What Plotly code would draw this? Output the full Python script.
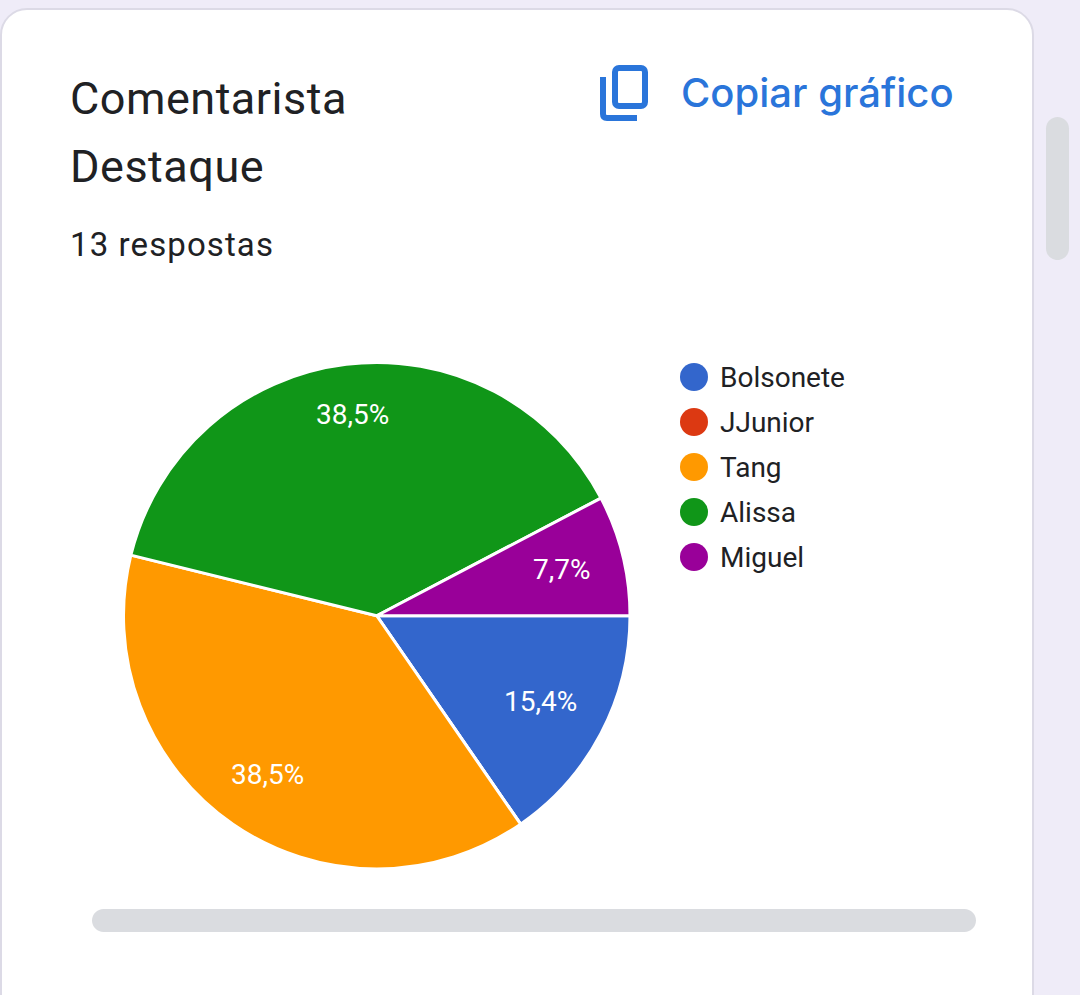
import math
import plotly.graph_objects as go

# data
labels = ['Bolsonete', 'JJunior', 'Tang', 'Alissa', 'Miguel']
values = [2, 0, 5, 5, 1]
colors = ['#3366CC', '#DC3912', '#FF9900', '#109618', '#990099']

W, H = 1080, 995
FONT = 'Roboto'
INK = '#202124'
BLUE = '#2A75DA'

# pie box in pixels
PIE_L, PIE_R, PIE_T, PIE_B = 123.5, 630, 362.5, 869


def round_rect(x0, y0, x1, y1, r):
    k = r * 0.45
    return (f'M {x0+r},{y0} L {x1-r},{y0} C {x1-k},{y0} {x1},{y0+k} {x1},{y0+r} '
            f'L {x1},{y1-r} C {x1},{y1-k} {x1-k},{y1} {x1-r},{y1} '
            f'L {x0+r},{y1} C {x0+k},{y1} {x0},{y1-k} {x0},{y1-r} '
            f'L {x0},{y0+r} C {x0},{y0+k} {x0+k},{y0} {x0+r},{y0} Z')


def spaced(text, px):
    return f'<span style="letter-spacing:{px}px">{text}</span>'


fig = go.Figure()

fig.add_trace(go.Pie(
    labels=labels, values=values, sort=False, direction='clockwise', rotation=90,
    marker=dict(colors=colors, line=dict(color='white', width=3)),
    textinfo='none',
    domain=dict(x=[PIE_L/W, PIE_R/W], y=[1-PIE_B/H, 1-PIE_T/H]),
    showlegend=False, hoverinfo='label+percent',
))

# legend drawn as a scatter so the dots can be as large as the original
fig.add_trace(go.Scatter(
    x=[0]*len(labels), y=labels, mode='markers',
    marker=dict(size=28, color=colors),
    xaxis='x2', yaxis='y2', showlegend=False, cliponaxis=False, hoverinfo='skip',
))

shapes = [
    dict(type='path', path=round_rect(1, 9, 1033, 1030, 26), fillcolor='white',
         line=dict(color='#DCDAE6', width=2), layer='below'),
    dict(type='path', path=round_rect(1046, 117, 1069, 260, 11.5), fillcolor='#DADCE0',
         line=dict(width=0), layer='below'),
    dict(type='path', path=round_rect(92, 909, 976, 932, 11.5), fillcolor='#DADCE0',
         line=dict(width=0), layer='below'),
    # copy icon
    dict(type='path', path=round_rect(615, 68, 645, 106, 4),
         line=dict(color=BLUE, width=6), layer='below'),
    dict(type='path', path='M 603,77 L 603,114 Q 603,118 607,118 L 637,118',
         line=dict(color=BLUE, width=6), layer='below'),
]
for s in shapes:
    s.update(xref='x', yref='y')

texts = [
    (spaced('Comentarista', 0.5), 68, 98, 45, INK, FONT, 400),
    (spaced('Destaque', 0.5), 68, 166, 45, INK, FONT, 400),
    (spaced('13 respostas', 1.1), 68, 244, 33, INK, FONT, 400),
    ('Copiar gráfico', 679, 92, 40, BLUE, 'Inter', 500),
]
annotations = [dict(text=t, x=x, y=y, xref='x', yref='y', xanchor='left', yanchor='middle',
                    showarrow=False, font=dict(family=f, size=s, color=c, weight=wt))
               for t, x, y, s, c, f, wt in texts]

# legend names
for name in labels:
    annotations.append(dict(text=name, x=24, y=name, xref='x2', yref='y2', xanchor='left',
                            yanchor='middle', showarrow=False,
                            font=dict(family=FONT, size=28, color=INK)))

# percent labels sit further out than plotly's inside text, so place them from the values
cx, cy, radius = (PIE_L+PIE_R)/2, (PIE_T+PIE_B)/2, (PIE_R-PIE_L)/2
label_reach = [0.73, 0, 0.76, 0.80, 0.755]
total = sum(values)
start = 0
for val, reach in zip(values, label_reach):
    mid = math.radians((start + val/2) / total * 360)
    start += val
    if val == 0:
        continue
    annotations.append(dict(text=f'{val/total*100:.1f}%'.replace('.', ','),
                            x=cx + reach*radius*math.cos(mid), y=cy + reach*radius*math.sin(mid),
                            xref='x', yref='y', showarrow=False,
                            font=dict(family=FONT, size=28, color='white')))

fig.update_layout(
    width=W, height=H, margin=dict(l=0, r=0, t=0, b=0),
    paper_bgcolor='#EFECF8', plot_bgcolor='rgba(0,0,0,0)',
    showlegend=False, shapes=shapes, annotations=annotations,
    xaxis=dict(range=[0, W], visible=False, domain=[0, 1]),
    yaxis=dict(range=[H, 0], visible=False, domain=[0, 1]),
    xaxis2=dict(range=[-14, 306], visible=False, domain=[680/W, 1000/W], anchor='y2'),
    yaxis2=dict(type='category', categoryorder='array', categoryarray=labels,
                range=[len(labels)-0.5, -0.5], visible=False,
                domain=[1-579.5/H, 1-354.5/H], anchor='x2'),
)

fig.write_html('out.html', config=dict(displayModeBar=False),
               post_script="document.body.style.margin='0';")
